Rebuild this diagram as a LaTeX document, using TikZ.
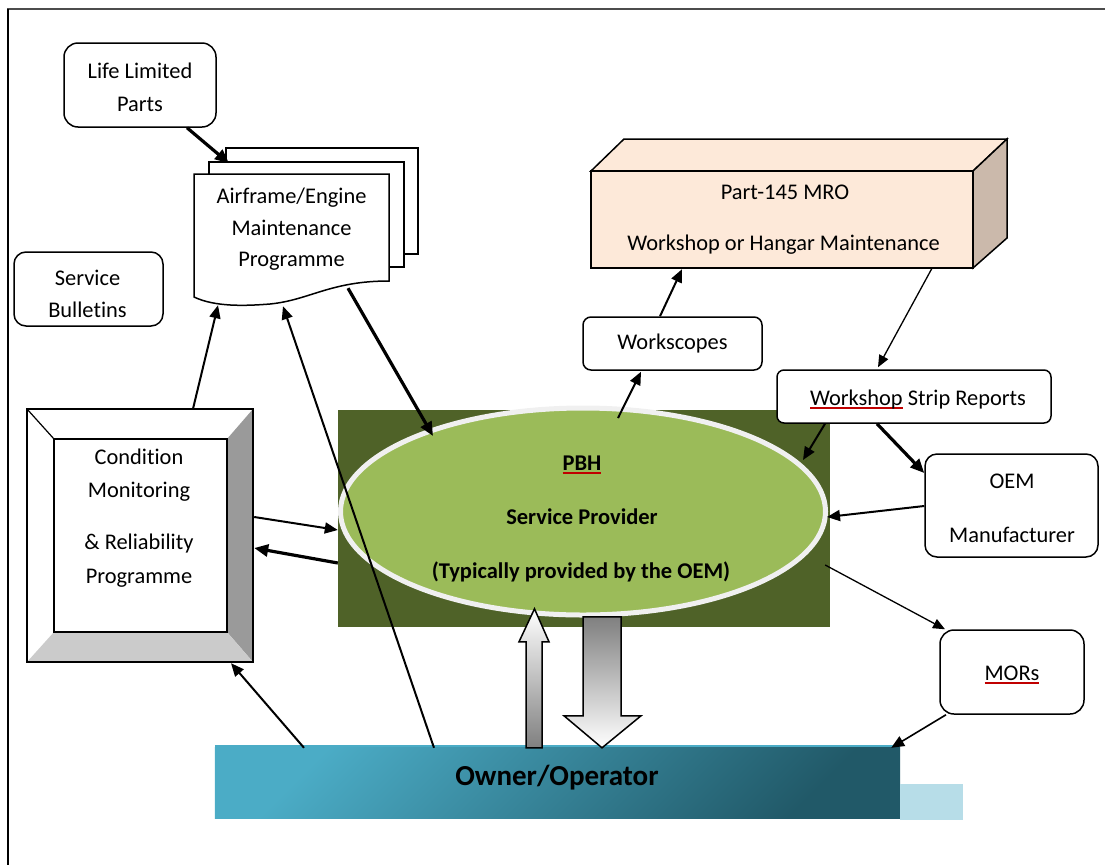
\documentclass[tikz,border=0pt]{standalone}
\usepackage{fontspec}
\setmainfont{Carlito}[Ligatures=NoCommon]
\usetikzlibrary{arrows.meta,calc,shapes.geometric}
\definecolor{ulred}{HTML}{C00000}
\definecolor{olivebox}{HTML}{4F6228}
\definecolor{pbhgreen}{HTML}{9BBB59}
\definecolor{mrofront}{HTML}{FDE9D9}
\definecolor{mroside}{HTML}{CBB9AB}
\definecolor{bevR}{HTML}{9A9A9A}
\definecolor{bevB}{HTML}{CBCBCB}
\definecolor{ownA}{HTML}{4BACC6}
\definecolor{ownB}{HTML}{215968}
\definecolor{ownSq}{HTML}{B7DDE8}
\newcommand\redul[1]{\setbox0\hbox{#1}\leavevmode\rlap{\color{ulred}\rule[-3.5pt]{\wd0}{1.6pt}}\box0\relax}
\begin{document}
\begin{tikzpicture}[x=1pt,y=-1pt,
  box/.style={draw=black, line width=1.5pt, fill=white, rounded corners=12pt, inner sep=0pt},
  page/.style={draw=black, line width=1.5pt, fill=white},
  txt/.style={font=\fontsize{22.4}{27}\selectfont, anchor=base, inner sep=0pt},
  btxt/.style={font=\fontsize{22.5}{27}\selectfont\bfseries, anchor=base, inner sep=0pt},
  arr/.style={-{Triangle[length=13pt,width=11pt]}, line width=2pt},
  thickarr/.style={-{Triangle[length=14pt,width=12pt]}, line width=3.2pt},
  thinarr/.style={-{Triangle[length=12pt,width=10pt]}, line width=1.3pt}]
\path[use as bounding box] (0,0) rectangle (1105,865);
% frame
\draw[line width=2pt, draw=black!70] (7,9) -- (1105,9);
\draw[line width=1.5pt] (8,9) -- (8,865);

% Life limited parts
\node[box, rounded corners=14pt, minimum width=152pt, minimum height=84pt] (llp) at (140,85) {};

% document stack
\node[page, minimum width=192pt, minimum height=106pt, inner sep=0pt] (pg3) at (322,201) {};
\node[page, minimum width=195pt, minimum height=105pt, inner sep=0pt] (pg2) at (306.5,214.5) {};
\node[inner sep=0pt, minimum width=195pt, minimum height=131pt] (afp) at (291.5,239.5) {};
\draw[page] (194,174) -- (389,174) -- (389,281) .. controls (330,281) and (310,300) .. (270,304)
  .. controls (245,306) and (215,307) .. (194,297) -- cycle;

% service bulletins
\node[box, minimum width=149pt, minimum height=74pt] (sb) at (88.5,289) {};

% condition monitoring bevel
\node[inner sep=0pt, minimum width=226pt, minimum height=253pt] (cm) at (140,535.5) {};
\fill[white] (27,409) -- (253,409) -- (227,439) -- (54,439) -- cycle;
\fill[white] (27,409) -- (54,439) -- (54,632) -- (27,662) -- cycle;
\fill[bevR] (253,409) -- (253,662) -- (227,632) -- (227,439) -- cycle;
\fill[bevB] (27,662) -- (253,662) -- (227,632) -- (54,632) -- cycle;
\draw[line width=1.5pt] (cm.north west) rectangle (cm.south east);
\draw[line width=1.5pt] (54,439) rectangle (227,632);
\draw[line width=1.2pt] (27,409) -- (54,439);

% PBH
\node[fill=olivebox, minimum width=492pt, minimum height=217pt, inner sep=0pt] (pbhbox) at (584,518.5) {};
\node[ellipse, fill=pbhgreen, draw=white!94!black, line width=5pt, minimum width=485pt, minimum height=207pt, inner sep=0pt] (pbh) at (583,511.5) {};

% MRO cuboid
\node[inner sep=0pt, minimum width=382pt, minimum height=97pt] (mro) at (782,219.5) {};
\filldraw[fill=mrofront, line width=1.5pt] (591,171) -- (624,139) -- (1007,139) -- (973,171) -- cycle;
\filldraw[fill=mroside, line width=1.5pt] (973,171) -- (1007,139) -- (1007,238) -- (973,268) -- cycle;
\filldraw[fill=mrofront, line width=1.5pt] (mro.north west) rectangle (mro.south east);

% small boxes
\node[box, rounded corners=8pt, minimum width=179pt, minimum height=53pt] (ws) at (672.5,343.5) {};
\node[box, rounded corners=7pt, minimum width=274pt, minimum height=53pt] (wsr) at (914,396.5) {};
\node[box, rounded corners=12pt, minimum width=173pt, minimum height=103pt] (oem) at (1011.5,505.5) {};
\node[box, rounded corners=14pt, minimum width=144pt, minimum height=84pt] (mors) at (1012,672) {};

% owner/operator
\node[inner sep=0pt, minimum width=685pt, minimum height=70pt] (owner) at (557.5,783) {};
\shade[top color=ownA, bottom color=ownB, shading angle=45] (owner.north west) rectangle (owner.south east);
\draw[ownA, line width=1.5pt] ($(owner.north west)+(0,-2)$) -- ($(owner.north east)+(0,-2)$);
\node[fill=ownSq, minimum width=63pt, minimum height=36pt, inner sep=0pt] (sq) at (931.5,802) {};

% block arrows
\begin{scope}[shift={(owner.north)}]
\shadedraw[top color=white, bottom color=black!50, line width=1.5pt]
  (-31.5,0) -- (-31.5,-106) -- (-38.5,-106) -- (-23,-139) -- (-8.5,-106) -- (-15.5,-106) -- (-15.5,0) -- cycle;
\shadedraw[top color=black!50, bottom color=white, line width=1.5pt]
  (25.5,-131) -- (63.5,-131) -- (63.5,-32) -- (83.5,-32) -- (44.5,0) -- (6.5,-32) -- (25.5,-32) -- cycle;
\end{scope}

% connectors
\draw[thickarr] ($(llp.south)+(47,0)$) -- ($(pg2.north)+(-77.5,2)$);
\draw[arr] ($(cm.north)+(53,0)$) -- ($(afp.south)+(-73.5,0)$);
\draw[arr] ($(owner.north)+(-123.5,0)$) -- ($(afp.south)+(-8.5,1)$);
\draw[arr] ($(owner.north)+(-253.5,0)$) -- ($(cm.south)+(91,1)$);
\draw[thickarr] ($(afp.south)+(56.5,-17)$) -- ($(pbh.center)+(-150,-75.5)$);
\draw[arr] ($(cm.east)+(1,-18.5)$) -- ($(pbhbox.west)+(0,11.5)$);
\draw[thickarr] ($(pbhbox.west)+(0,44.5)$) -- ($(cm.east)+(1,12.5)$);
\draw[arr] ($(pbh.center)+(35,-93.5)$) -- ($(ws.south)+(-31.5,1)$);
\draw[arr] ($(ws.north)+(-12.5,0)$) -- ($(mro.south)+(-100,1)$);
\draw[thinarr] ($(mro.south)+(150,0)$) -- ($(wsr.north)+(-36,-2)$);
\draw[arr] ($(wsr.south)+(-89,0)$) -- ($(pbh.center)+(220,-51.5)$);
\draw[thickarr] ($(wsr.south)+(-37,0)$) -- ($(oem.west)+(0,-32.5)$);
\draw[arr] ($(oem.west)+(0,0.5)$) -- ($(pbh.center)+(244,5.5)$);
\draw[thinarr] ($(pbhbox.east)+(-5,46.5)$) -- ($(mors.north)+(-67,0)$);
\draw[arr, line width=1.6pt] ($(mors.south)+(-66,0)$) -- ($(owner.north east)+(-9,0)$);

% texts
\node[txt] (t1) at (140,78) {Life Limited};
\node[txt] (t2) at (140,111) {Parts};
\node[txt] (t3) at (291.5,203) {Airframe/Engine};
\node[txt] (t4) at (291.5,235) {Maintenance};
\node[txt] (t5) at (291.5,266) {Programme};
\node[txt] (t6) at (87.5,285) {Service};
\node[txt] (t7) at (87.5,317) {Bulletins};
\node[txt] (t8) at (139,464) {Condition};
\node[txt] (t9) at (139,497) {Monitoring};
\node[txt] (t10) at (139,549) {\& Reliability};
\node[txt] (t11) at (139,583) {Programme};
\node[txt] (t12) at (785,199) {Part-145 MRO};
\node[txt] (t13) at (783.5,250) {Workshop or Hangar Maintenance};
\node[txt] (t14) at (672.5,349) {Workscopes};
\node[txt] (t15) at (918,405) {\redul{Workshop} Strip Reports};
\node[txt] (t16) at (1012,488) {OEM};
\node[txt] (t17) at (1012,542) {Manufacturer};
\node[txt] (t18) at (1012,680) {\redul{MORs}};
\node[btxt] (t19) at (582,470) {\redul{PBH}};
\node[btxt] (t20) at (582,524) {Service Provider};
\node[btxt] (t21) at (581,578) {(Typically provided by the OEM)};
\node[txt, font=\fontsize{29}{34}\selectfont\bfseries] (t22) at (557,785) {Owner/Operator};
\end{tikzpicture}
\end{document}
